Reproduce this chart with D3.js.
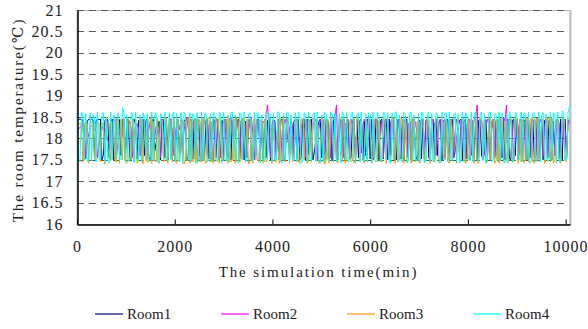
<!DOCTYPE html>
<html>
<head>
<meta charset="utf-8">
<script src="https://cdn.jsdelivr.net/npm/d3@7"></script>
<style>
  body { margin: 0; background: #fff; }
  text { font-family: "Liberation Serif", "DejaVu Serif", serif; fill: #222; }
</style>
</head>
<body>
<svg id="chart" width="588" height="329"></svg>
<script>
// output step of the simulation (min)
var timeStep = 30;

var room1 = [
  18.42,18.44,18.45,18.44,18.43,17.5,17.55,18.4,18.45,18.44,18.45,18.43,17.52,18.42,18.45,18.44,
  18.45,17.5,17.6,18.42,18.45,18.44,17.55,18.4,18.45,17.5,17.55,18.45,18.42,18.44,17.6,18.45,
  18.4,17.5,18.42,18.45,17.55,17.5,18.4,18.45,18.3,17.52,18.42,18.45,17.5,18.45,17.6,18.42,
  18.45,17.55,17.5,18.42,18.45,17.7,17.9,18.2,18.4,17.5,18.45,18.42,17.55,18.45,17.5,18.44,
  18.45,17.52,18.4,17.5,18.45,18.42,17.55,18.45,17.6,18.4,18.45,17.5,17.55,18.42,18.45,17.52,
  18.45,17.5,18.42,18.44,17.6,18.45,17.5,17.55,18.42,18.45,17.52,18.4,17.5,18.45,18.42,17.55,
  18.45,17.5,17.6,18.42,17.5,18.45,18.4,17.55,18.45,17.5,18.42,17.8,18.1,18.35,18.45,17.52,
  18.42,18.45,17.5,18.4,17.55,18.45,18.42,17.5,17.55,18.45,17.6,18.42,18.45,17.5,18.4,17.52,
  18.45,17.55,18.42,18.45,17.5,17.6,18.45,18.4,17.52,18.45,17.5,18.42,18.45,17.55,17.5,18.45,
  18.42,17.5,18.45,17.6,18.4,18.45,17.52,18.45,17.5,17.55,18.42,18.45,17.5,18.45,17.62,18.42,
  18.45,17.5,17.7,17.95,18.2,18.4,18.45,17.55,18.42,17.5,18.45,18.4,17.52,18.45,17.5,18.42,
  18.45,17.55,17.5,18.45,18.42,17.6,18.45,17.5,18.4,18.45,17.52,17.55,18.42,18.45,17.5,18.45,
  17.55,18.42,18.45,17.5,18.4,17.6,18.45,18.42,17.52,18.45,17.5,17.55,18.45,18.42,17.5,18.4,
  18.45,17.52,18.42,18.45,17.5,18.45,17.6,18.4,18.45,17.55,17.5,18.42,18.45,17.52,18.45,17.5,
  18.42,18.45,17.55,18.4,17.5,18.45,18.42,17.6,17.5,18.45,18.4,17.52,18.45,17.5,18.42,18.45,
  17.55,17.5,18.45,18.42,17.52,18.45,17.6,18.4,18.45,17.5,18.42,17.55,18.45,18.44,17.5,18.42,
  18.45,17.55,17.7,18.0,18.25,18.42,18.45,17.5,18.4,18.45,17.52,18.42,17.5,18.45,18.4,17.55,
  18.45,17.5,18.42,18.45,17.6,17.5,18.45,18.42,17.52,18.45,17.5,18.4,18.45,17.55,18.42,17.5,
  18.45,18.42,17.55,18.45,17.5,18.4,18.45,17.52,17.5,18.42,18.45,17.6,18.45,17.5,18.42,18.45,
  17.52,18.4,18.45,17.5,18.42,17.55,18.45,18.42,17.5,17.6,18.45,18.4,17.52,18.45,17.5,18.42,
  18.45,17.55,18.42,18.45,17.5,18.4,17.6,18.45,18.42,17.52,18.45,17.5,18.42,18.45,17.55,18.42,
  18.4
];

var room2 = [
  18.2,18.22,18.25,18.3,18.32,18.3,17.6,17.9,18.1,18.25,18.3,18.28,18.2,18.15,17.55,17.8,
  18.05,18.2,18.3,18.25,18.1,17.95,17.85,17.8,17.75,18.4,18.45,17.6,17.9,18.15,18.2,18.1,
  18.0,17.9,17.85,18.3,18.4,18.2,17.55,18.1,18.3,18.35,18.2,17.6,18.25,18.4,18.3,18.2,
  17.5,18.2,18.4,18.45,17.7,18.0,18.3,18.25,18.1,17.55,18.35,18.45,18.2,18.1,17.65,18.3,
  18.45,18.2,17.6,18.1,18.3,18.4,18.2,18.45,17.55,18.2,18.35,18.5,18.2,18.1,17.6,18.3,
  18.4,18.2,18.45,18.3,17.5,18.1,18.3,18.45,18.2,17.6,18.3,18.4,18.3,17.5,18.2,18.45,
  18.35,18.1,17.55,18.2,18.4,18.45,17.6,18.1,18.3,18.5,18.2,17.9,18.3,18.45,18.2,17.55,
  18.3,18.4,18.45,18.3,17.6,18.2,18.35,18.5,18.1,17.5,18.3,18.45,18.2,17.65,18.2,18.4,
  18.35,18.5,18.78,18.2,17.55,18.3,18.45,18.1,17.6,18.35,18.4,18.2,17.5,18.3,18.45,18.3,
  17.9,18.2,18.45,18.3,17.55,18.4,18.45,18.1,17.8,18.3,18.4,18.2,17.55,18.35,18.45,18.2,
  17.6,18.3,18.4,18.45,17.5,18.2,18.45,18.35,18.1,17.7,18.3,18.45,18.2,17.55,18.4,18.45,
  18.5,18.78,17.6,18.2,18.35,18.45,17.55,18.3,18.4,18.2,17.6,18.45,18.3,18.1,17.5,18.4,
  18.45,18.2,17.65,18.3,18.45,18.35,17.55,18.2,18.4,18.45,17.6,18.3,18.45,18.2,17.9,18.3,
  18.4,17.55,18.2,18.45,18.3,17.6,18.4,18.45,18.1,17.5,18.35,18.45,18.2,17.6,18.3,18.4,
  18.45,17.55,18.3,18.4,18.2,17.6,18.45,18.35,18.1,17.55,18.3,18.45,18.2,17.7,18.4,18.45,
  18.2,17.5,18.35,18.45,18.3,17.6,18.2,18.4,18.45,17.55,18.3,18.45,18.1,17.6,18.4,18.45,
  18.3,17.55,18.2,18.45,18.4,17.6,18.35,18.45,18.2,17.5,18.3,18.4,18.45,17.6,18.2,18.45,
  18.5,18.78,17.55,18.3,18.45,18.2,17.6,18.4,18.45,18.3,17.55,18.2,18.45,18.35,17.6,18.3,
  18.45,18.2,17.55,18.5,18.4,18.78,17.6,18.3,18.45,18.2,17.5,18.35,18.45,18.3,17.6,18.2,
  18.45,18.4,17.55,18.3,18.45,18.2,17.6,18.4,18.45,18.3,17.5,18.2,18.45,18.35,17.6,18.3,
  18.45,18.2,17.55,18.4,18.45,18.3,17.6,18.2,18.45,18.35,17.55,18.3,18.45,18.2,17.6,18.4,
  18.35
];

var room3 = [
  18.35,18.35,18.34,18.35,17.45,18.36,18.35,18.35,17.42,18.35,18.36,18.34,17.5,18.35,18.35,18.36,
  17.45,18.35,18.34,17.4,18.35,18.36,18.35,17.48,18.35,18.4,17.45,18.45,18.42,17.42,18.45,17.5,
  18.48,17.45,17.42,18.45,18.4,17.5,18.48,17.45,18.45,17.42,17.5,18.48,18.45,17.4,18.42,17.48,
  17.45,18.45,18.48,17.42,18.4,17.5,17.45,18.48,17.42,18.45,18.4,17.45,17.5,18.48,17.42,18.45,
  18.4,17.45,18.48,17.5,17.42,18.45,17.45,18.48,18.42,17.4,17.5,18.45,18.48,17.42,18.45,17.45,
  17.5,18.48,17.42,18.45,18.4,17.45,18.48,17.5,17.42,18.45,18.48,17.45,18.4,17.42,17.5,18.48,
  18.45,17.42,18.48,17.45,17.5,18.4,18.45,17.42,18.48,17.45,17.5,18.45,17.42,18.48,18.4,17.45,
  17.5,18.48,18.42,17.45,18.45,17.4,17.48,18.45,17.42,18.48,18.45,17.5,17.45,18.4,18.48,17.42,
  18.45,17.45,17.5,18.48,18.45,17.42,18.4,17.48,17.45,18.45,17.42,18.48,18.45,17.5,17.45,18.42,
  18.48,17.42,18.45,17.45,17.5,18.48,18.4,17.45,17.42,18.45,18.48,17.5,18.45,17.42,17.48,18.45,
  17.45,18.48,18.42,17.5,18.45,17.42,17.45,18.48,18.45,17.4,17.5,18.45,17.42,18.48,18.45,17.45,
  18.4,17.5,17.42,18.48,18.45,17.45,18.48,17.42,17.5,18.45,18.4,17.45,17.48,18.48,17.42,18.45,
  18.45,17.45,18.48,17.5,17.42,18.45,17.45,18.48,18.4,17.42,17.5,18.45,18.48,17.45,18.42,17.5,
  17.45,18.45,18.48,17.42,18.45,17.5,17.45,18.4,18.48,17.42,18.45,17.45,17.5,18.48,18.45,17.42,
  18.48,17.45,17.5,18.45,17.42,18.48,18.45,17.45,18.4,17.5,17.42,18.48,18.45,17.45,17.48,18.45,
  18.4,17.42,18.48,17.45,17.5,18.45,18.48,17.42,17.45,18.45,18.4,17.5,18.48,17.45,17.42,18.45,
  17.5,18.48,18.45,17.42,18.4,17.45,17.5,18.48,18.45,17.42,17.45,18.48,17.5,18.45,18.4,17.42,
  18.48,17.45,17.42,18.45,18.48,17.5,18.45,17.42,17.45,18.48,17.5,18.4,18.45,17.42,17.48,18.45,
  17.42,18.48,18.45,17.45,18.4,17.5,17.42,18.48,18.45,17.45,17.5,18.45,18.48,17.42,18.45,17.45,
  18.45,17.42,17.5,18.48,17.45,18.4,18.48,17.45,17.42,18.45,18.48,17.5,17.45,18.45,18.42,17.42,
  17.5,18.48,18.45,17.45,18.48,17.42,17.5,18.45,18.4,17.45,17.42,18.48,18.45,17.5,17.45,18.48,
  18.45
];

var room4 = [
  18.6,17.5,17.45,18.62,18.55,17.5,18.58,17.45,17.5,18.6,17.48,18.55,18.5,17.45,18.62,17.55,
  17.5,18.58,18.6,17.45,18.5,17.5,17.42,18.62,17.5,18.55,18.48,17.45,18.6,17.55,17.5,18.72,
  18.6,17.45,18.55,17.5,17.45,18.6,18.58,17.42,18.62,17.5,17.48,18.55,17.45,18.6,18.5,17.5,
  18.58,17.45,17.5,18.62,17.48,18.55,18.6,17.45,17.42,18.58,18.5,17.5,18.62,17.45,17.55,18.6,
  17.5,18.55,18.62,17.45,18.58,17.5,17.45,18.6,17.42,18.62,18.55,17.48,17.5,18.6,17.45,18.58,
  18.5,17.42,18.6,17.5,17.45,18.62,17.48,18.55,18.6,17.45,17.5,18.58,17.45,18.62,18.55,17.5,
  17.45,18.6,18.58,17.42,18.62,17.5,17.48,18.55,17.45,18.6,18.62,17.5,18.55,17.45,17.42,18.6,
  18.58,17.5,18.62,17.45,17.5,18.55,18.6,17.48,17.45,18.62,17.5,18.58,18.6,17.42,18.55,17.5,
  17.45,18.62,17.5,18.6,18.55,17.45,18.58,17.48,17.5,18.62,18.6,17.45,17.42,18.58,17.5,18.6,
  18.62,17.45,18.55,17.5,17.48,18.6,17.45,18.62,18.58,17.42,17.5,18.6,18.55,17.45,18.62,17.5,
  17.48,18.58,18.6,17.45,18.62,17.5,17.42,18.55,17.45,18.6,18.58,17.5,17.45,18.62,18.55,17.48,
  18.6,17.45,17.5,18.58,17.42,18.62,18.55,17.5,18.6,17.45,17.48,18.58,18.62,17.42,17.5,18.55,
  18.6,17.45,18.62,17.5,17.45,18.58,17.48,18.6,18.55,17.42,18.62,17.5,17.45,18.6,18.58,17.45,
  17.5,18.62,18.55,17.48,18.6,17.45,17.42,18.58,17.5,18.62,18.6,17.45,18.55,17.5,17.45,18.62,
  18.58,17.42,17.5,18.6,18.62,17.45,18.55,17.5,17.48,18.58,17.45,18.62,18.6,17.42,17.5,18.55,
  18.62,17.45,18.58,17.5,17.45,18.6,18.55,17.48,17.42,18.62,17.5,18.58,18.6,17.45,18.62,17.5,
  17.48,18.55,18.6,17.45,18.58,17.42,17.5,18.62,17.45,18.6,18.55,17.5,17.48,18.62,17.45,18.58,
  18.6,17.5,17.45,18.55,18.62,17.48,18.58,17.42,17.5,18.6,18.62,17.45,17.5,18.58,18.55,17.45,
  18.62,17.48,18.6,17.5,17.42,18.58,17.45,18.62,18.55,17.5,17.45,18.6,18.58,17.48,17.5,18.62,
  17.45,18.6,18.55,17.5,18.62,17.42,17.48,18.58,18.6,17.45,17.5,18.62,17.45,18.55,18.6,17.5,
  18.58,17.45,17.5,18.62,17.48,18.6,18.55,17.42,18.62,17.5,17.45,18.65,18.6,17.48,17.5,18.6,
  18.75
];

var seriesNames = ["Room1", "Room2", "Room3", "Room4"];
var seriesColors = ["#000080", "#ff00ff", "#ff9900", "#00ffff"];
var yTicks = [16, 16.5, 17, 17.5, 18, 18.5, 19, 19.5, 20, 20.5, 21];
var xTicks = [0, 2000, 4000, 6000, 8000, 10000];

(function () {
  var svg = d3.select("#chart");
  var pLeft = 77, pRight = 570, pTop = 10, pBottom = 224;

  var x = d3.scaleLinear().domain([0, 10090]).range([pLeft, pRight]);
  var y = d3.scaleLinear().domain([16, 21]).range([pBottom, pTop]);

  // frame
  svg.append("rect")
    .attr("x", pLeft).attr("y", pTop + 0.5)
    .attr("width", pRight - pLeft).attr("height", pBottom - pTop)
    .attr("fill", "none").attr("stroke", "#b8b8b8");
  svg.append("line")
    .attr("x1", pRight + 0.5).attr("x2", pRight + 0.5)
    .attr("y1", pTop).attr("y2", pBottom + 1)
    .attr("stroke", "#c0c0c0").attr("stroke-width", 2);

  // dashed grid
  svg.append("g").selectAll("line")
    .data(yTicks.slice(1))
    .enter().append("line")
    .attr("x1", pLeft).attr("x2", pRight - 2)
    .attr("y1", function(d) { return Math.round(y(d)) + 0.5; })
    .attr("y2", function(d) { return Math.round(y(d)) + 0.5; })
    .attr("stroke", "#5a5a5a")
    .attr("stroke-dasharray", "7,5");

  // series
  var series = [room1, room2, room3, room4];
  var line = d3.line()
    .x(function(d, i) { return x(i * timeStep); })
    .y(function(d) { return y(d); });

  svg.append("g").selectAll("path")
    .data(series)
    .enter().append("path")
    .attr("d", line)
    .attr("fill", "none")
    .attr("stroke", function(d, i) { return seriesColors[i]; })
    .attr("stroke-width", 1);

  // axes
  var xAxis = d3.axisBottom(x).tickValues(xTicks).tickSizeInner(-5).tickSizeOuter(0).tickPadding(16)
    .tickFormat(d3.format("d"));
  var yAxis = d3.axisLeft(y).tickValues(yTicks).tickSizeInner(0).tickSizeOuter(0).tickPadding(14)
    .tickFormat(function(d) { return String(d); });

  var gx = svg.append("g").attr("transform", "translate(0," + (pBottom + 0.5) + ")").call(xAxis);
  var gy = svg.append("g").attr("transform", "translate(" + (pLeft + 0.5) + ",0)").call(yAxis);

  [gx, gy].forEach(function(g) {
    g.select(".domain").attr("stroke", "#000").attr("stroke-width", 1.5);
    g.selectAll(".tick line").attr("stroke", "#000");
    g.selectAll(".tick text")
      .attr("font-size", 16).attr("letter-spacing", 1)
      .attr("font-family", "Liberation Serif").attr("fill", "#222");
  });

  // axis titles
  svg.append("text")
    .attr("x", (pLeft + pRight) / 2 - 5).attr("y", 277)
    .attr("text-anchor", "middle").attr("font-size", 15).attr("letter-spacing", 1.9)
    .text("The simulation time(min)");

  svg.append("text")
    .attr("transform", "translate(23,120) rotate(-90)")
    .attr("text-anchor", "middle").attr("font-size", 15).attr("letter-spacing", 1.9)
    .text("The room temperature(℃)");

  // legend
  var legend = svg.append("g").selectAll("g")
    .data(seriesNames)
    .enter().append("g")
    .attr("transform", function(d, i) { return "translate(" + (95 + i * 126) + ",314)"; });

  legend.append("line")
    .attr("x1", 0).attr("x2", 28)
    .attr("stroke", function(d, i) { return seriesColors[i]; })
    .attr("stroke-width", 1.2);

  legend.append("text")
    .attr("x", 32).attr("y", 5)
    .attr("font-size", 15)
    .text(function(d) { return d; });
})();
</script>
</body>
</html>
